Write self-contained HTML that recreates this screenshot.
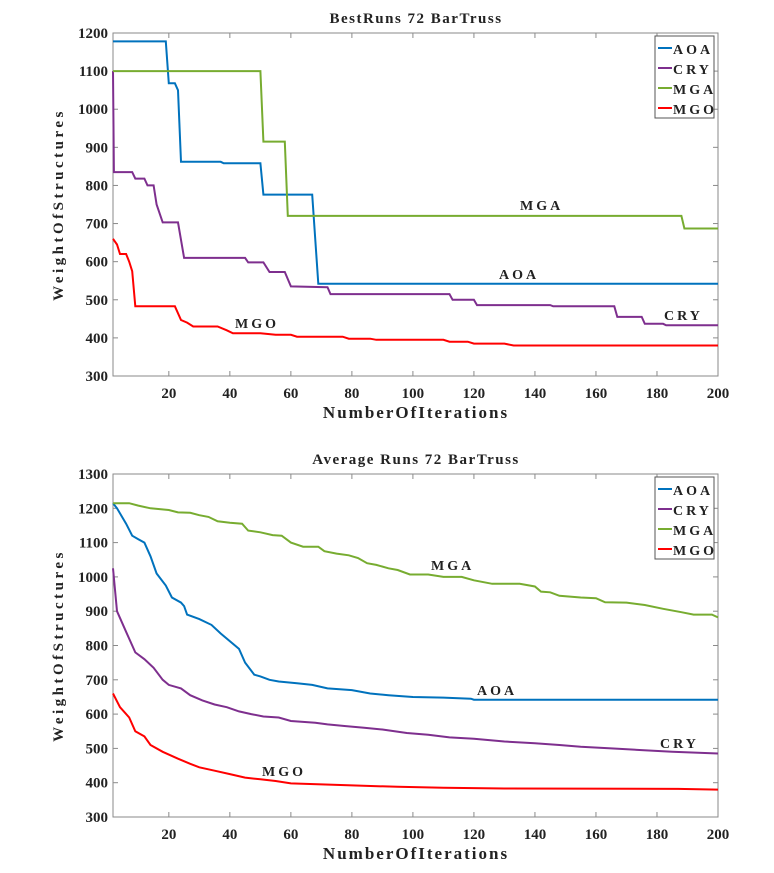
<!DOCTYPE html>
<html><head><meta charset="utf-8"><style>
body{margin:0;background:#fff;}
svg text{font-family:"Liberation Serif",serif;font-weight:bold;fill:#222;}
</style></head><body>
<svg id="c" width="774" height="868" xmlns="http://www.w3.org/2000/svg"></svg>
<script>
const xTicks=[20,40,60,80,100,120,140,160,180,200];
const yTicksTop=[300,400,500,600,700,800,900,1000,1100,1200];
const yTicksBot=[300,400,500,600,700,800,900,1000,1100,1200,1300];
const seriesNames=['AOA','CRY','MGA','MGO'];
const colors=['#0072BD','#7E2F8E','#77AC30','#FF0000'];
// Top: best runs
const bAOAx=[1,19,20,22,23,24,37,38,50,51,67,69,200];
const bAOAy=[1178,1178,1068,1068,1050,862,862,858,858,776,776,542,542];
const bCRYx=[1,2,8,9,12,13,15,16,18,23,25,45,46,51,53,58,60,72,73,112,113,120,121,145,146,166,167,175,176,182,183,200];
const bCRYy=[1100,835,835,818,818,800,800,750,703,703,610,610,598,598,573,573,535,533,515,515,500,500,486,486,483,483,455,455,437,437,433,433];
const bMGAx=[1,50,51,58,59,188,189,200];
const bMGAy=[1100,1100,915,915,720,720,687,687];
const bMGOx=[1,3,4,6,7,8,9,22,24,26,28,36,39,41,50,55,60,62,77,79,86,88,110,112,118,120,130,133,200];
const bMGOy=[660,645,620,620,600,575,483,483,447,440,430,430,420,412,412,408,408,403,403,398,398,395,395,390,390,385,385,380,380];
// Bottom: average runs
const aAOAx=[1,3,6,8,10,12,14,16,19,21,24,25,26,30,34,37,43,45,48,50,53,56,62,67,72,80,86,92,100,110,119,120,200];
const aAOAy=[1215,1200,1155,1120,1110,1100,1060,1010,975,940,925,915,890,877,860,835,790,750,715,710,700,695,690,685,675,670,660,655,650,648,645,642,642];
const aCRYx=[1,3,6,9,12,15,18,20,24,27,31,35,39,43,47,51,56,60,68,72,78,84,90,98,105,112,120,130,140,148,155,165,175,185,200];
const aCRYy=[1025,900,840,780,760,735,700,685,675,655,640,628,620,608,600,593,590,580,575,570,565,560,555,545,540,532,528,520,515,510,505,500,495,490,485];
const aMGAx=[1,7,10,14,20,23,27,30,33,36,40,44,46,50,54,57,60,64,69,71,75,79,82,85,88,92,95,99,105,110,116,120,126,135,140,142,145,148,155,160,163,170,176,182,188,192,198,200];
const aMGAy=[1215,1215,1208,1200,1195,1188,1187,1180,1175,1162,1158,1155,1135,1130,1122,1120,1100,1088,1088,1075,1068,1063,1055,1040,1035,1025,1020,1007,1007,1000,1000,990,980,980,972,957,955,945,940,938,926,925,918,907,897,890,890,882];
const aMGOx=[1,4,7,9,12,14,18,23,27,30,35,40,45,50,55,60,70,80,95,110,130,187,200];
const aMGOy=[660,620,590,550,535,510,490,470,455,445,435,425,415,410,405,398,395,392,388,385,383,382,380];

const NS='http://www.w3.org/2000/svg';
const svg=document.getElementById('c');
function el(t,a,p){const e=document.createElementNS(NS,t);for(const k in a)e.setAttribute(k,a[k]);(p||svg).appendChild(e);return e;}

function chart(o){
  const g=el('g',{});
  
  
  const L=113,R=718,T=o.top,B=o.bottom;
  const sx=v=>L+(v-1.7)/(198.3)*(R-L);
  const sy=v=>B-(v-o.ymin)/(o.ymax-o.ymin)*(B-T);
  const fr=el('rect',{x:L,y:T,width:R-L,height:B-T,fill:'#fff',stroke:'#8a8a8a','stroke-width':1},g);
  
  
  xTicks.forEach(v=>{
    const x=sx(v);
    el('line',{x1:x,y1:B,x2:x,y2:B-5,stroke:'#8a8a8a'},g);
    el('line',{x1:x,y1:T,x2:x,y2:T+5,stroke:'#8a8a8a'},g);
    const t=el('text',{x:x,y:B+22,'text-anchor':'middle','font-size':15},g);t.textContent=v;
    
    
  });
  o.yticks.forEach(v=>{
    const y=sy(v);
    el('line',{x1:L,y1:y,x2:L+5,y2:y,stroke:'#8a8a8a'},g);
    el('line',{x1:R,y1:y,x2:R-5,y2:y,stroke:'#8a8a8a'},g);
    const t=el('text',{x:L-5,y:y+5,'text-anchor':'end','font-size':15},g);t.textContent=v;
    
    
  });
  o.series.forEach((s,i)=>{
    const pts=s[0].map((x,j)=>Math.max(L,sx(x)).toFixed(1)+','+sy(s[1][j]).toFixed(1)).join(' ');
    const p=el('polyline',{points:pts,fill:'none',stroke:colors[i],'stroke-width':2},g);
    
    
  });
  o.labels.forEach(l=>{
    const t=el('text',{x:l[1],y:l[2],'font-size':14,'letter-spacing':'3'},g);t.textContent=l[0];
    
    
  });
  const title=el('text',{x:416,y:T-10,'text-anchor':'middle','font-size':15,'letter-spacing':'1.5'},g);title.textContent=o.title;
  
  
  const xl=el('text',{x:416,y:B+42,'text-anchor':'middle','font-size':17,'letter-spacing':'2'},g);xl.textContent='NumberOfIterations';
  
  
  const cy=(T+B)/2;
  const yl=el('text',{x:0,y:0,'text-anchor':'middle','font-size':15,'letter-spacing':'3.5',transform:'translate(63,'+cy+') rotate(-90)','font-weight':'normal'},g);yl.textContent='WeightOfStructures';
  
  
  const lg=el('g',{},g);
  
  
  el('rect',{x:655,y:T+3,width:59,height:82,fill:'#fff',stroke:'#555'},lg);
  seriesNames.forEach((n,i)=>{
    const y=T+15+i*20;
    el('line',{x1:658,y1:y,x2:672,y2:y,stroke:colors[i],'stroke-width':2},lg);
    const t=el('text',{x:673,y:y+6,'font-size':14,'letter-spacing':'3','font-weight':'normal'},lg);t.textContent=n;
    
    
  });
}
chart({name:'best-runs-chart',title:'BestRuns 72 BarTruss',top:33,bottom:376,ymin:300,ymax:1200,yticks:yTicksTop,
  series:[[bAOAx,bAOAy],[bCRYx,bCRYy],[bMGAx,bMGAy],[bMGOx,bMGOy]],
  labels:[['MGO',235,328],['MGA',520,210],['AOA',499,279],['CRY',664,320]]});
chart({name:'average-runs-chart',title:'Average Runs 72 BarTruss',top:474,bottom:817,ymin:300,ymax:1300,yticks:yTicksBot,
  series:[[aAOAx,aAOAy],[aCRYx,aCRYy],[aMGAx,aMGAy],[aMGOx,aMGOy]],
  labels:[['MGA',431,570],['AOA',477,695],['CRY',660,748],['MGO',262,776]]});
</script>
</body></html>
